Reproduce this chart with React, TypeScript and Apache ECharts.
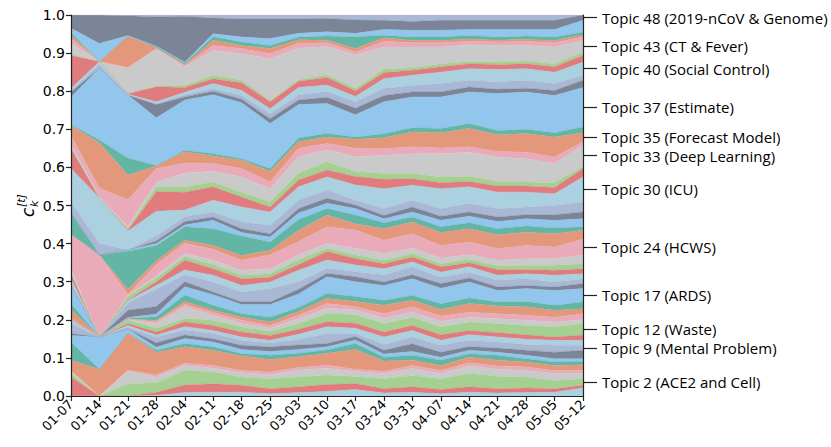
import React, { useEffect, useRef } from "react";
import * as echarts from "echarts";

const dates = ["01-07", "01-14", "01-21", "01-28", "02-04", "02-11", "02-18", "02-25", "03-03", "03-10",
  "03-17", "03-24", "03-31", "04-07", "04-14", "04-21", "04-28", "05-05", "05-12"];

// For each week, the top edge (in %) of every topic band, topics 0..49 bottom to top.
const e0107 = [0, 5.0, 5.9, 6.5, 6.6, 9.4, 14.2, 15.9, 16.4, 19.0, 19.9, 20.0, 20.1, 20.2, 20.3, 22.7, 24.2, 29.0, 29.2, 29.5, 30.8, 32.1, 32.2, 33.4, 42.2, 42.4, 47.9, 48.0, 48.1, 51.0, 59.7, 65.0, 65.2, 66.0, 68.4, 71.0, 71.2, 78.5, 79.8, 80.2, 80.7, 89.4, 89.6, 92.5, 93.8, 94.7, 95.4, 96.5, 100, 100];
const e0114 = [0, 0, 0, 0, 0, 7.0, 7.0, 15.5, 15.5, 15.5, 15.5, 15.5, 15.5, 15.5, 15.5, 15.5, 15.5, 15.5, 15.5, 15.5, 15.5, 15.5, 15.5, 15.5, 37.0, 37.0, 37.0, 37.0, 37.0, 40.0, 52.0, 52.0, 52.0, 52.3, 54.5, 66.5, 67.2, 86.0, 86.0, 87.0, 87.8, 87.8, 87.8, 87.8, 87.8, 87.8, 87.8, 92.5, 100, 100];
const e0121 = [0, 0, 3.2, 6.5, 6.8, 16.5, 16.6, 17.5, 17.6, 18.0, 18.5, 19.0, 20.0, 20.1, 20.2, 20.3, 20.4, 20.6, 22.5, 24.5, 25.0, 25.2, 26.2, 26.4, 26.6, 28.0, 38.0, 38.3, 38.3, 38.4, 43.3, 43.6, 44.0, 44.5, 51.5, 58.0, 62.5, 79.0, 79.0, 79.0, 79.2, 79.3, 79.5, 86.0, 86.2, 94.4, 94.5, 94.6, 99.8, 100];
const e0128 = [0.2, 1.0, 3.5, 5.0, 5.5, 11.5, 12.0, 12.8, 14.0, 15.5, 16.0, 16.8, 17.8, 19.0, 19.5, 19.8, 20.8, 21.5, 23.5, 28.0, 29.0, 30.0, 31.0, 31.5, 34.5, 35.5, 39.5, 40.0, 40.7, 42.0, 48.5, 53.7, 55.0, 56.2, 59.7, 60.4, 60.5, 73.0, 76.5, 76.8, 77.2, 81.2, 81.3, 91.0, 91.2, 91.4, 91.7, 91.8, 99.5, 100];
const e0204 = [0.9, 2.9, 6.8, 8.1, 8.6, 12.9, 13.8, 15.1, 16.0, 17.3, 18.2, 19.5, 20.4, 23.4, 24.1, 24.8, 26.5, 28.7, 30.0, 31.8, 33.1, 35.7, 36.6, 37.4, 40.1, 40.9, 44.4, 44.9, 45.8, 47.1, 48.8, 53.5, 54.9, 58.5, 61.1, 64.1, 64.5, 77.7, 78.5, 79.0, 79.7, 81.0, 81.5, 86.4, 86.7, 87.0, 87.4, 87.6, 99.7, 100];
const e0211 = [1.0, 3.2, 6.3, 7.3, 8.0, 12.0, 12.9, 14.2, 15.0, 16.4, 17.2, 18.5, 19.9, 21.2, 21.9, 22.5, 23.8, 26.6, 27.3, 29.9, 31.7, 33.4, 34.5, 35.6, 38.5, 39.5, 43.9, 46.1, 47.0, 48.3, 51.4, 54.9, 56.2, 59.0, 61.0, 63.0, 63.6, 79.1, 80.0, 80.7, 82.0, 83.3, 84.2, 90.7, 92.0, 93.4, 94.3, 95.1, 99.2, 100];
const e0218 = [1.0, 2.8, 5.0, 6.1, 6.7, 10.5, 11.1, 12.2, 13.3, 14.6, 15.5, 16.8, 18.1, 19.0, 19.9, 20.7, 21.6, 24.0, 24.7, 27.3, 29.0, 30.8, 31.7, 33.0, 35.6, 36.9, 42.0, 42.9, 43.9, 45.7, 49.6, 52.2, 53.5, 57.5, 59.7, 61.9, 62.3, 77.0, 77.9, 78.9, 80.2, 82.2, 82.9, 89.8, 91.2, 92.0, 92.9, 94.2, 99.0, 100];
const e0225 = [0.6, 1.9, 4.5, 5.6, 6.3, 9.6, 10.7, 11.7, 12.9, 13.9, 14.6, 15.9, 17.0, 17.8, 18.5, 19.4, 20.7, 24.0, 24.7, 28.2, 29.9, 31.2, 32.1, 33.4, 37.1, 38.2, 40.4, 41.7, 42.6, 44.8, 48.3, 49.6, 50.9, 54.4, 56.2, 59.0, 59.7, 71.5, 72.8, 74.1, 75.4, 77.2, 77.6, 88.5, 89.8, 91.2, 92.0, 93.8, 99.0, 100];
const e0303 = [0.9, 2.4, 5.0, 6.8, 7.5, 10.3, 11.2, 12.2, 13.4, 14.8, 16.2, 17.5, 19.0, 20.3, 21.2, 22.2, 23.2, 26.8, 28.0, 30.0, 33.0, 34.5, 35.8, 37.0, 40.5, 43.5, 46.3, 48.0, 49.2, 51.4, 54.9, 56.7, 58.5, 62.8, 65.0, 66.8, 67.7, 76.5, 77.7, 79.0, 81.0, 82.6, 83.0, 91.3, 92.6, 93.5, 94.2, 95.2, 99.0, 100];
const e0310 = [1.2, 3.0, 5.5, 7.3, 8.1, 11.2, 12.1, 12.9, 13.8, 16.4, 18.2, 19.5, 21.7, 23.0, 24.3, 25.6, 26.9, 31.3, 32.2, 33.5, 35.7, 37.9, 38.8, 40.1, 44.4, 47.5, 49.2, 50.6, 51.9, 54.1, 57.5, 59.3, 61.5, 64.6, 66.3, 68.0, 68.9, 76.8, 78.4, 79.9, 81.6, 83.6, 84.3, 91.7, 92.7, 93.4, 94.5, 95.6, 99.1, 100];
const e0317 = [1.7, 3.3, 5.1, 6.4, 7.0, 12.2, 13.8, 14.7, 15.6, 16.4, 17.8, 19.1, 21.3, 22.6, 23.4, 24.8, 26.1, 30.0, 31.3, 32.6, 34.4, 36.1, 37.0, 38.8, 43.6, 45.2, 47.5, 49.2, 50.1, 51.4, 55.4, 57.6, 58.9, 62.8, 65.0, 67.4, 68.0, 73.8, 75.5, 77.2, 78.6, 80.1, 80.8, 89.5, 90.3, 91.2, 94.3, 95.2, 98.7, 100];
const e0324 = [0.8, 1.9, 4.5, 5.9, 6.5, 9.2, 10.2, 11.0, 12.0, 13.5, 15.5, 16.8, 19.0, 20.5, 21.6, 23.8, 25.1, 29.0, 29.9, 31.8, 33.4, 34.7, 35.6, 37.4, 40.9, 43.9, 45.5, 46.5, 47.4, 49.2, 54.4, 56.9, 58.4, 63.2, 64.9, 67.8, 68.8, 77.2, 78.9, 80.8, 83.3, 84.9, 85.8, 91.6, 93.1, 94.0, 94.7, 96.2, 98.6, 100];
const e0331 = [1.0, 2.4, 5.4, 7.2, 8.0, 9.4, 10.7, 11.7, 13.7, 15.5, 17.2, 18.5, 20.7, 22.0, 23.4, 25.1, 26.4, 30.8, 31.8, 33.9, 35.2, 36.5, 37.4, 38.8, 42.6, 45.7, 47.0, 48.3, 49.6, 51.4, 55.3, 57.0, 58.4, 63.6, 65.4, 69.3, 70.4, 78.5, 79.8, 81.5, 84.2, 85.5, 86.1, 91.6, 92.7, 93.3, 94.2, 96.0, 98.3, 100];
const e0407 = [0.6, 1.7, 4.5, 5.9, 6.7, 8.0, 9.4, 10.2, 11.5, 13.3, 14.6, 16.1, 18.1, 19.6, 21.0, 22.7, 24.2, 28.3, 29.5, 31.2, 32.5, 33.9, 34.7, 36.2, 39.5, 42.9, 44.4, 46.1, 47.2, 49.2, 54.4, 56.0, 57.5, 63.6, 65.1, 69.1, 70.2, 78.5, 79.8, 82.0, 85.0, 86.4, 87.2, 91.6, 92.7, 93.3, 94.2, 96.0, 98.6, 100];
const e0414 = [1.0, 2.4, 5.9, 7.9, 8.7, 10.2, 11.1, 12.0, 13.0, 14.6, 16.1, 17.2, 19.4, 20.7, 22.0, 24.3, 25.7, 29.9, 31.0, 32.5, 33.9, 35.0, 35.9, 37.1, 40.4, 43.9, 45.5, 47.2, 48.3, 50.5, 54.9, 56.3, 57.7, 64.0, 65.4, 70.2, 71.5, 79.8, 81.1, 82.9, 85.9, 87.2, 87.8, 92.2, 93.1, 93.7, 94.6, 96.2, 98.6, 100];
const e0421 = [0.8, 1.9, 5.2, 7.0, 7.9, 9.4, 10.7, 11.5, 12.6, 14.2, 15.5, 16.6, 19.0, 20.3, 21.6, 23.6, 24.7, 27.7, 28.6, 30.4, 31.7, 33.2, 34.1, 35.6, 38.7, 42.3, 43.9, 45.8, 47.0, 49.2, 53.5, 55.1, 56.3, 62.7, 64.2, 68.6, 69.7, 79.4, 80.5, 82.4, 85.7, 87.0, 87.7, 92.0, 92.9, 93.4, 94.2, 96.2, 98.6, 100];
const e0428 = [0.9, 2.1, 5.0, 6.7, 7.6, 8.9, 9.8, 10.7, 12.0, 13.5, 14.9, 16.1, 18.5, 19.9, 21.2, 23.4, 24.8, 28.2, 29.0, 30.8, 32.1, 33.2, 34.3, 36.0, 39.5, 43.0, 44.6, 46.5, 47.6, 49.6, 53.5, 55.1, 56.2, 62.3, 64.0, 68.9, 70.0, 79.8, 80.8, 82.9, 85.9, 87.2, 87.9, 92.0, 93.1, 93.6, 94.5, 96.2, 98.6, 100];
const e0505 = [1.0, 1.9, 4.1, 5.9, 6.7, 8.0, 8.9, 9.8, 11.5, 13.3, 14.6, 15.5, 18.1, 19.4, 20.7, 22.5, 23.8, 27.7, 28.6, 29.9, 31.7, 33.0, 34.3, 36.0, 39.1, 42.6, 44.1, 46.1, 47.6, 50.0, 53.1, 54.7, 56.0, 61.0, 62.7, 68.0, 69.1, 78.9, 80.2, 82.0, 85.0, 86.4, 87.2, 91.6, 92.7, 93.3, 94.2, 96.2, 98.6, 100];
const e0512 = [2.1, 2.8, 4.5, 5.9, 6.7, 8.2, 8.9, 9.8, 12.0, 13.3, 14.6, 16.0, 19.0, 20.0, 21.6, 22.9, 24.7, 28.2, 29.5, 30.8, 32.1, 33.4, 34.7, 37.0, 41.2, 43.5, 44.4, 46.5, 48.3, 50.9, 57.5, 59.7, 60.4, 65.8, 66.7, 69.1, 70.6, 81.0, 82.9, 84.2, 87.6, 89.4, 90.3, 93.3, 94.2, 94.8, 95.5, 98.6, 100, 100];

const weeklyEdges = [e0107, e0114, e0121, e0128, e0204, e0211, e0218, e0225, e0303, e0310,
  e0317, e0324, e0331, e0407, e0414, e0421, e0428, e0505, e0512];

const topicCount = 50;

const labeledTopics = [48, 43, 40, 37, 35, 33, 30, 24, 17, 12, 9, 2];
const labeledNames = [
  "Topic 48 (2019-nCoV & Genome)",
  "Topic 43 (CT & Fever)",
  "Topic 40 (Social Control)",
  "Topic 37 (Estimate)",
  "Topic 35 (Forecast Model)",
  "Topic 33 (Deep Learning)",
  "Topic 30 (ICU)",
  "Topic 24 (HCWS)",
  "Topic 17 (ARDS)",
  "Topic 12 (Waste)",
  "Topic 9 (Mental Problem)",
  "Topic 2 (ACE2 and Cell)",
];

const palette = ["#abd0e0", "#e07c7e", "#a4d191", "#cacaca", "#e9abb9", "#e3987b", "#63b5a5", "#93c6ec", "#7b8597", "#a9b8d5"];

function topicShares(k: number): number[] {
  return weeklyEdges.map((e) => {
    const below = k > 0 ? e[k - 1] : 0;
    return Math.max(0, +((e[k] - below) / 100).toFixed(4));
  });
}

export default function App() {
  const ref = useRef<HTMLDivElement>(null);
  useEffect(() => {
    if (!ref.current) return;
    const chart = echarts.init(ref.current, undefined, { renderer: "svg" });
    const last = weeklyEdges[weeklyEdges.length - 1];
    const mids = labeledTopics.map((k) => +(((k > 0 ? last[k - 1] : 0) + last[k]) / 200).toFixed(5));
    const series: any[] = [];
    for (let k = 0; k < topicCount; k++) {
      const c = palette[k % palette.length];
      series.push({
        type: "line",
        name: "Topic " + k,
        stack: "all",
        data: topicShares(k),
        symbol: "none",
        showSymbol: false,
        smooth: false,
        lineStyle: { width: 0.4, color: c },
        areaStyle: { color: c, opacity: 1 },
        emphasis: { disabled: true },
        silent: true,
        z: 2,
      });
    }
    const axisColor = "#222";
    chart.setOption({
      animation: false,
      grid: { left: 71, right: 248, top: 15, bottom: 51, containLabel: false },
      xAxis: [
        {
          type: "category",
          data: dates,
          boundaryGap: false,
          axisLine: { lineStyle: { color: axisColor, width: 1.2 } },
          axisTick: { show: true, length: 5, lineStyle: { color: axisColor, width: 1.2 } },
          axisLabel: { interval: 0, rotate: 45, fontSize: 13, color: "#000", fontFamily: "DejaVu Sans", margin: 6 },
          z: 10,
        },
        {
          type: "category",
          data: dates,
          position: "top",
          boundaryGap: false,
          axisLine: { lineStyle: { color: axisColor, width: 1.2 } },
          axisTick: { show: false },
          axisLabel: { show: false },
          z: 10,
        },
      ],
      yAxis: [
        {
          type: "value",
          min: 0,
          max: 1,
          interval: 0.1,
          splitLine: { show: false },
          axisLine: { show: true, lineStyle: { color: axisColor, width: 1.2 } },
          axisTick: { show: true, length: 5, lineStyle: { color: axisColor, width: 1.2 } },
          axisLabel: { fontSize: 14, color: "#000", fontFamily: "DejaVu Sans", margin: 6, formatter: (v: number) => v.toFixed(1) },
          z: 10,
        },
        {
          type: "value",
          position: "right",
          min: 0,
          max: 1,
          splitLine: { show: false },
          axisLine: { show: true, lineStyle: { color: axisColor, width: 1.2 } },
          axisTick: { show: true, inside: false, length: 14, customValues: mids, lineStyle: { color: axisColor, width: 1.2 } },
          axisLabel: {
            customValues: mids,
            fontSize: 15,
            color: "#000",
            fontFamily: "Open Sans",
            margin: 19,
            formatter: (v: number) => {
              const i = mids.findIndex((m) => Math.abs(m - v) < 1e-6);
              return i >= 0 ? labeledNames[i] : "";
            },
          },
          z: 10,
        },
      ],
      graphic: [
        {
          type: "group",
          x: 28,
          y: 217,
          rotation: Math.PI / 2,
          children: [
            { type: "text", x: 0, y: 0, style: { text: "c", font: "italic 17px DejaVu Sans", fill: "#000", textVerticalAlign: "middle" } },
            { type: "text", x: 10, y: -7, style: { text: "[t]", font: "italic 11px DejaVu Sans", fill: "#000", textVerticalAlign: "middle" } },
            { type: "text", x: 10, y: 6, style: { text: "k", font: "italic 11px DejaVu Sans", fill: "#000", textVerticalAlign: "middle" } },
          ],
        },
      ],
      series,
    });
    return () => chart.dispose();
  }, []);
  return <div ref={ref} style={{ position: "absolute", left: 0, top: 0, width: 831, height: 447 }} />;
}
